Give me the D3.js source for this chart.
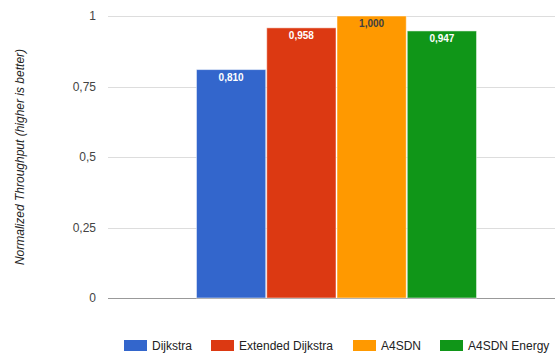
<!DOCTYPE html>
<html><head><meta charset="utf-8">
<script src="https://cdn.jsdelivr.net/npm/d3@7"></script>
<style>body{margin:0;background:#fff}svg{display:block;font-family:Arial,"Liberation Sans",sans-serif}</style>
</head><body>
<svg id="c" width="555" height="354"></svg>
<script>
const categories = [""];
const seriesNames = ["Dijkstra", "Extended Dijkstra", "A4SDN", "A4SDN Energy"];
const seriesValues = [0.810, 0.958, 1.000, 0.947];
const seriesColors = ["#3366cc", "#dc3912", "#ff9900", "#109618"];
const yTicks = [0, 0.25, 0.5, 0.75, 1];
const yTickLabels = ["0", "0,25", "0,5", "0,75", "1"];
const yTitle = "Normalized Throughput (higher is better)";

const svg = d3.select("#c");
const plotLeft = 108, plotRight = 555, plotTop = 16, plotBottom = 298;
const y = d3.scaleLinear().domain([0, 1]).range([plotBottom, plotTop]);
const x0 = d3.scaleBand().domain(categories).range([108, 565]).paddingInner(0).paddingOuter(0.313);
const x1 = d3.scaleBand().domain(seriesNames).range([0, x0.bandwidth()]).padding(0);

// gridlines
svg.append("g").selectAll("line").data(yTicks).join("line")
  .attr("x1", plotLeft).attr("x2", plotRight)
  .attr("y1", d => Math.round(y(d)) + 0.5).attr("y2", d => Math.round(y(d)) + 0.5)
  .attr("stroke", d => d === 0 ? "#999" : "#ddd").attr("stroke-width", 1);

// tick labels
svg.append("g").selectAll("text").data(yTicks).join("text")
  .attr("x", 96).attr("y", d => y(d)).attr("dy", "0.35em")
  .attr("text-anchor", "end").attr("font-size", 12).attr("fill", "#444")
  .text((d, i) => yTickLabels[i]);

// y title
svg.append("text")
  .attr("transform", `translate(24,${(plotTop + plotBottom) / 2}) rotate(-90)`)
  .attr("text-anchor", "middle").attr("font-size", 12).attr("font-style", "italic")
  .attr("fill", "#222").text(yTitle);

// bars
const data = seriesNames.map((n, i) => ({ name: n, value: seriesValues[i], color: seriesColors[i] }));
const g = svg.append("g").attr("transform", `translate(${x0(categories[0])},0)`);
g.selectAll("rect").data(data).join("rect")
  .attr("x", d => x1(d.name) + 0.5).attr("width", x1.bandwidth() - 1)
  .attr("y", d => y(d.value)).attr("height", d => y(0) - y(d.value))
  .attr("fill", d => d.color).attr("stroke", "#fff").attr("stroke-opacity", 0.5).attr("stroke-width", 1);
g.selectAll("text.v").data(data).join("text").attr("class", "v")
  .attr("x", d => x1(d.name) + x1.bandwidth() / 2).attr("y", d => y(d.value) + 11)
  .attr("text-anchor", "middle").attr("font-size", 10).attr("font-weight", "bold")
  .attr("fill", d => d.name === "A4SDN" ? "#404040" : "#fff")
  .text(d => d3.format(".3f")(d.value).replace(".", ","));

// legend
const legendX = [124, 211, 353, 440];
const lg = svg.append("g").selectAll("g").data(data).join("g")
  .attr("transform", (d, i) => `translate(${legendX[i]},340)`);
lg.append("rect").attr("width", 23).attr("height", 11).attr("fill", d => d.color);
lg.append("text").attr("x", 28).attr("y", 5.5).attr("dy", "0.35em")
  .attr("font-size", 12).attr("fill", "#222").text(d => d.name);
</script>
</body></html>
